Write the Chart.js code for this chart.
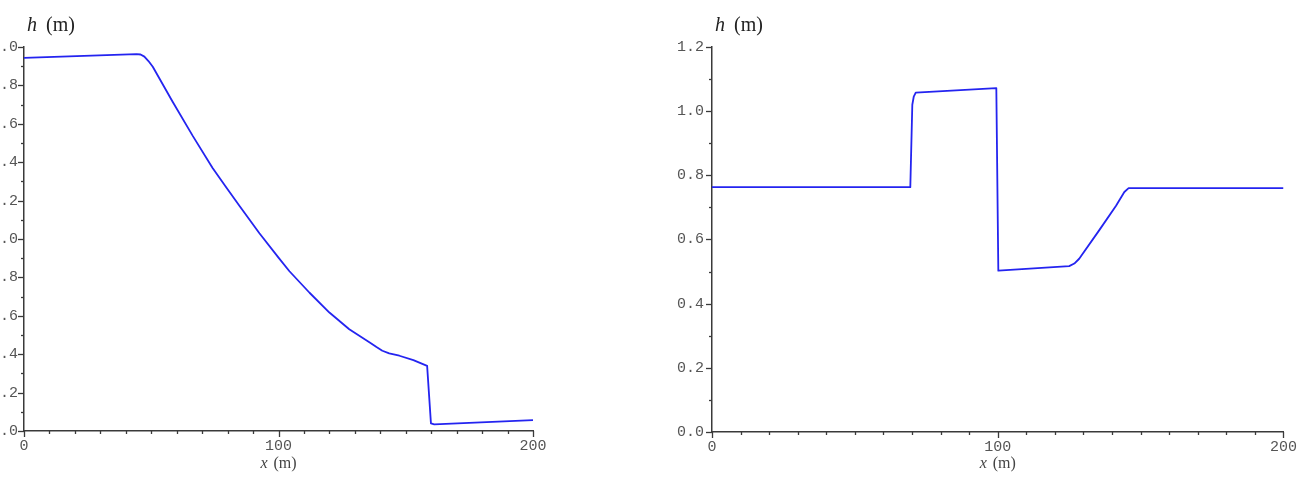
<!DOCTYPE html>
<html>
<head>
<meta charset="utf-8">
<script src="https://cdn.jsdelivr.net/npm/chart.js@4.4.1/dist/chart.umd.min.js"></script>
<style>
  html, body { margin: 0; padding: 0; background: #fff; overflow: hidden; width: 1303px; height: 485px; }
  .box { position: absolute; top: 0; height: 485px; }
  #leftBox { left: -40px; width: 600px; }
  #rightBox { left: 650px; width: 653px; }
</style>
</head>
<body>
<div class="box" id="leftBox"><canvas id="leftChart"></canvas></div>
<div class="box" id="rightBox"><canvas id="rightChart"></canvas></div>
<script>
// ---- Data ----
const leftX = [0, 44.2, 45.8, 47.3, 48.9, 50.6, 58.4, 66.3, 74.1, 79.5, 84.7, 92.5, 100, 104.3, 112.2, 120, 127.8, 135.7, 138.5, 140.8, 143.5, 147.5, 153, 158.4, 159.9, 161.2, 200];
const leftH = [1.943, 1.963, 1.961, 1.950, 1.927, 1.897, 1.715, 1.537, 1.370, 1.268, 1.172, 1.030, 0.903, 0.832, 0.720, 0.617, 0.530, 0.462, 0.437, 0.418, 0.404, 0.392, 0.369, 0.339, 0.040, 0.035, 0.057];

const rightX = [0, 69.4, 70.1, 70.6, 71.3, 99.5, 100.2, 125, 126.8, 128.5, 135.6, 141.4, 144.3, 145.8, 200];
const rightH = [0.763, 0.763, 1.020, 1.045, 1.058, 1.072, 0.503, 0.517, 0.525, 0.540, 0.630, 0.705, 0.748, 0.760, 0.760];

const xTickLabels = [0, 100, 200];
const leftYTicks = [0, 0.2, 0.4, 0.6, 0.8, 1.0, 1.2, 1.4, 1.6, 1.8, 2.0];
const rightYTicks = [0, 0.2, 0.4, 0.6, 0.8, 1.0, 1.2];

const yTitleMain = 'h';
const xTitleMain = 'x';
const unitText = '(m)';

// ---- Helpers ----
const AXIS_COLOR = '#3a3a3a';
const LINE_COLOR = '#2424f0';

const decor = {
  id: 'decor',
  afterDraw(chart, args, o) {
    const ctx = chart.ctx;
    const xs = chart.scales.x, ys = chart.scales.y;
    const ca = chart.chartArea;
    ctx.save();
    ctx.strokeStyle = AXIS_COLOR;
    ctx.lineWidth = 1.3;
    const nY = Math.round((ys.max - ys.min) / o.yMinor);
    for (let i = 0; i <= nY; i++) {
      const v = ys.min + i * o.yMinor;
      const p = Math.round(ys.getPixelForValue(v)) + 0.5;
      const len = (i % 2 === 0) ? 6 : 3;
      ctx.beginPath(); ctx.moveTo(ca.left - len, p); ctx.lineTo(ca.left, p); ctx.stroke();
    }
    const nX = Math.round((xs.max - xs.min) / o.xMinor);
    for (let i = 0; i <= nX; i++) {
      const v = xs.min + i * o.xMinor;
      const p = Math.round(xs.getPixelForValue(v)) + 0.5;
      const len = (i % 10 === 0) ? 6 : 3;
      ctx.beginPath(); ctx.moveTo(p, ca.bottom); ctx.lineTo(p, ca.bottom + len); ctx.stroke();
    }
    ctx.fillStyle = '#222';
    ctx.textBaseline = 'alphabetic';
    ctx.textAlign = 'left';
    ctx.font = 'italic 20px "Liberation Serif", serif';
    ctx.fillText(yTitleMain, ca.left + 3, 31);
    ctx.font = '20px "Liberation Serif", serif';
    ctx.fillText(unitText, ca.left + 22, 31);
    const cx = xs.getPixelForValue((xs.min + xs.max) / 2);
    ctx.fillStyle = '#444';
    ctx.font = 'italic 16px "Liberation Serif", serif';
    const wx = ctx.measureText(xTitleMain).width;
    ctx.font = '16px "Liberation Serif", serif';
    const gap = 6;
    const wu = ctx.measureText(unitText).width;
    const start = cx - (wx + gap + wu) / 2;
    ctx.font = 'italic 16px "Liberation Serif", serif';
    ctx.fillText(xTitleMain, start, 468);
    ctx.font = '16px "Liberation Serif", serif';
    ctx.fillText(unitText, start + wx + gap, 468);
    ctx.restore();
  }
};

function makeChart(id, xs, hs, yMax, yTicks, areaLeft, areaRight, areaBottom, canvasW, yPad) {
  const data = xs.map((x, i) => ({ x: x, y: hs[i] }));
  return new Chart(document.getElementById(id), {
    type: 'line',
    data: {
      datasets: [{
        data: data,
        borderColor: LINE_COLOR,
        borderWidth: 1.8,
        pointRadius: 0,
        tension: 0,
        borderJoinStyle: 'round',
        fill: false
      }]
    },
    options: {
      responsive: true,
      maintainAspectRatio: false,
      animation: false,
      devicePixelRatio: 1,
      events: [],
      layout: { padding: { left: 0, right: canvasW - areaRight, top: 47, bottom: 0 } },
      plugins: {
        legend: { display: false },
        tooltip: { enabled: false },
        title: { display: false },
        decor: { yMinor: 0.1, xMinor: 10 }
      },
      scales: {
        x: {
          type: 'linear',
          min: 0, max: 200,
          afterFit(s) { s.height = 485 - areaBottom; },
          afterBuildTicks(s) { s.ticks = xTickLabels.map(v => ({ value: v })); },
          ticks: {
            autoSkip: false, maxRotation: 0, padding: 6,
            color: '#555',
            font: { family: '"Liberation Mono", "DejaVu Sans Mono", monospace', size: 15 },
            callback: v => String(v)
          },
          grid: { display: true, drawOnChartArea: false, drawTicks: false },
          border: { display: true, color: AXIS_COLOR, width: 1.5 }
        },
        y: {
          type: 'linear',
          min: 0, max: yMax,
          afterFit(s) { s.width = areaLeft; },
          afterBuildTicks(s) { s.ticks = yTicks.map(v => ({ value: v })); },
          ticks: {
            autoSkip: false, padding: yPad,
            color: '#555',
            font: { family: '"Liberation Mono", "DejaVu Sans Mono", monospace', size: 15 },
            callback: v => Number(v).toFixed(1)
          },
          grid: { display: true, drawOnChartArea: false, drawTicks: false },
          border: { display: true, color: AXIS_COLOR, width: 1.5 }
        }
      }
    },
    plugins: [decor]
  });
}

makeChart('leftChart', leftX, leftH, 2.0, leftYTicks, 64, 573, 431, 600, 6);
makeChart('rightChart', rightX, rightH, 1.2, rightYTicks, 62, 634, 432, 653, 8);
</script>
</body>
</html>
